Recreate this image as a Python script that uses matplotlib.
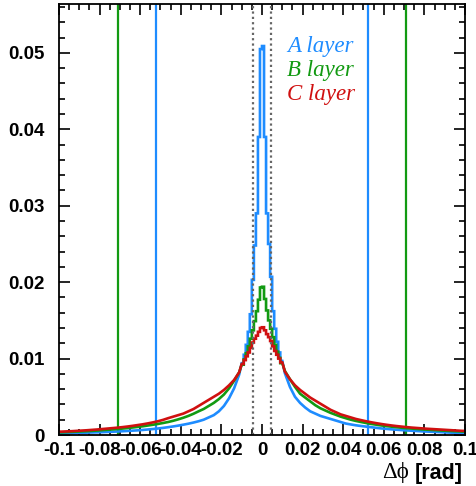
import numpy as np
import matplotlib
matplotlib.use("Agg")
import matplotlib.pyplot as plt
from matplotlib.ticker import MultipleLocator, FixedLocator, FuncFormatter

# core bins are 0.001 wide (|x| < 0.01), tail bins 0.0025 wide (0.01 < |x| < 0.1)
core_edges = np.arange(0, 0.01 + 1e-9, 0.001)
tail_centers = np.arange(0.01125, 0.1, 0.0025)

# bin contents, listed from the centre outwards
blue_core_left = [0.0505, 0.039, 0.029, 0.0248, 0.0203, 0.0158, 0.0135, 0.0118, 0.0105, 0.0094]
blue_core_right = [0.0509, 0.039, 0.029, 0.0250, 0.0207, 0.0162, 0.0139, 0.0122, 0.0108, 0.0097]
blue_tail_left = [0.0079, 0.0061, 0.0048, 0.0038, 0.0031, 0.0026, 0.0023, 0.0020,
                  0.0018, 0.00163, 0.00148, 0.00135, 0.00123, 0.00112, 0.00102, 0.00093,
                  0.00085, 0.00078, 0.00072, 0.00066, 0.00061, 0.00057, 0.00053, 0.00049,
                  0.00046, 0.00043, 0.0004, 0.00037, 0.00035, 0.00033, 0.00031, 0.00029,
                  0.00027, 0.00025, 0.00023, 0.00021]
blue_tail_right = [0.0081, 0.0063, 0.0050, 0.0042, 0.0036, 0.0031, 0.0028, 0.0025,
                   0.0023, 0.0021, 0.0019, 0.0017, 0.0015, 0.00138, 0.00127, 0.00118,
                   0.0011, 0.00102, 0.00094, 0.00086, 0.0008, 0.00074, 0.00069, 0.00064,
                   0.0006, 0.00056, 0.00052, 0.00048, 0.00045, 0.00042, 0.00039, 0.00036,
                   0.00033, 0.0003, 0.00027, 0.00024]

green_core_left = [0.0193, 0.0177, 0.0162, 0.0149, 0.0137, 0.0126, 0.0116, 0.0107, 0.0099, 0.0092]
green_core_right = [0.0194, 0.0178, 0.0163, 0.0150, 0.0139, 0.0128, 0.0118, 0.0109, 0.0101, 0.0094]
green_tail_left = [0.0082, 0.0071, 0.0061, 0.0053, 0.0047, 0.0042, 0.0038, 0.0034,
                   0.0031, 0.00278, 0.0025, 0.00226, 0.00205, 0.00186, 0.0017, 0.00157,
                   0.00145, 0.00134, 0.00124, 0.00114, 0.00106, 0.00098, 0.00091, 0.00084,
                   0.00078, 0.00073, 0.00068, 0.00063, 0.00058, 0.00054, 0.0005, 0.00047,
                   0.00044, 0.00041, 0.00038, 0.00035]
green_tail_right = [0.0084, 0.0073, 0.0063, 0.0054, 0.0049, 0.0044, 0.0039, 0.0035,
                    0.0032, 0.0029, 0.00265, 0.0024, 0.0022, 0.002, 0.00184, 0.0017,
                    0.00157, 0.00145, 0.00135, 0.00125, 0.00117, 0.00109, 0.00102, 0.00095,
                    0.00089, 0.00084, 0.00079, 0.00074, 0.0007, 0.00066, 0.00062, 0.00058,
                    0.00055, 0.00051, 0.00048, 0.00045]

red_core_left = [0.0140, 0.0135, 0.0130, 0.0126, 0.0121, 0.0114, 0.0108, 0.0103, 0.0098, 0.0093]
red_core_right = [0.0141, 0.0137, 0.0132, 0.0128, 0.0123, 0.0116, 0.0110, 0.0105, 0.0100, 0.0095]
red_tail_left = [0.0082, 0.0072, 0.0065, 0.0059, 0.0054, 0.0050, 0.0046, 0.0042,
                 0.0038, 0.0034, 0.0031, 0.0028, 0.0026, 0.0024, 0.0022, 0.00198,
                 0.0018, 0.00165, 0.00152, 0.0014, 0.0013, 0.0012, 0.00111, 0.00103,
                 0.00096, 0.0009, 0.00084, 0.00078, 0.00072, 0.00067, 0.00062, 0.00058,
                 0.00054, 0.0005, 0.00047, 0.00044]
red_tail_right = [0.0083, 0.0073, 0.0065, 0.0059, 0.0054, 0.0049, 0.0045, 0.0041,
                  0.0037, 0.0033, 0.0030, 0.0027, 0.0025, 0.0023, 0.0021, 0.00195,
                  0.0018, 0.00167, 0.00155, 0.00144, 0.00134, 0.00125, 0.00117, 0.0011,
                  0.00103, 0.00097, 0.00092, 0.00087, 0.00082, 0.00078, 0.00074, 0.0007,
                  0.00066, 0.00062, 0.00058, 0.00054]

# cut positions
blue_cut = 0.052
green_cut = 0.071
core_cut = 0.0043

labels = ["A layer", "B layer", "C layer"]
colors = ["#1e8cff", "#129a12", "#d01010"]

series = [
    (blue_core_left, blue_core_right, blue_tail_left, blue_tail_right),
    (green_core_left, green_core_right, green_tail_left, green_tail_right),
    (red_core_left, red_core_right, red_tail_left, red_tail_right),
]


def outline(core_l, core_r, tail_l, tail_r):
    # tails joined through bin centres, core drawn as histogram steps
    xs, ys = [], []
    for c, v in zip(tail_centers[::-1], tail_l[::-1]):
        xs.append(-c)
        ys.append(v)
    for i in range(len(core_l) - 1, -1, -1):
        xs += [-core_edges[i + 1], -core_edges[i]]
        ys += [core_l[i], core_l[i]]
    for i in range(len(core_r)):
        xs += [core_edges[i], core_edges[i + 1]]
        ys += [core_r[i], core_r[i]]
    for c, v in zip(tail_centers, tail_r):
        xs.append(c)
        ys.append(v)
    xs = [-0.1] + xs + [0.1]
    ys = [ys[0]] + ys + [ys[-1]]
    return xs, ys


fig = plt.figure(figsize=(4.77, 4.86), dpi=100)
ax = fig.add_axes([59 / 477, 51 / 486, 406 / 477, 431 / 486])

for xv in (-green_cut, green_cut):
    ax.axvline(xv, color=colors[1], lw=1.6)
for xv in (-blue_cut, blue_cut):
    ax.axvline(xv, color=colors[0], lw=1.6)

for s, c in zip(series, colors):
    xs, ys = outline(*s)
    ax.plot(xs, ys, color=c, lw=1.9, solid_joinstyle="miter")

for xv in (-core_cut, core_cut):
    ax.axvline(xv, color="#666666", lw=1.6, ls=(0, (1, 1.4)))

ax.set_xlim(-0.1, 0.1)
ax.set_ylim(0, 0.0564)

xt = np.round(np.arange(-0.1, 0.1001, 0.02), 2)
ax.xaxis.set_major_locator(FixedLocator(xt))
ax.xaxis.set_minor_locator(MultipleLocator(0.005))
ax.yaxis.set_major_locator(FixedLocator([0, 0.01, 0.02, 0.03, 0.04, 0.05]))
ax.yaxis.set_minor_locator(MultipleLocator(0.002))
ax.xaxis.set_major_formatter(FuncFormatter(lambda v, p: "0" if abs(v) < 1e-9 else "%g" % round(v, 2)))
ax.yaxis.set_major_formatter(FuncFormatter(lambda v, p: "0" if abs(v) < 1e-9 else "%g" % round(v, 2)))

ax.tick_params(which="both", direction="in", top=True, right=True, width=1.2)
ax.tick_params(which="major", length=8)
ax.tick_params(which="minor", length=4)
ax.tick_params(axis="x", pad=5)
ax.tick_params(axis="y", pad=10)
for lab in ax.get_xticklabels() + ax.get_yticklabels():
    lab.set_fontfamily("Liberation Sans")
    lab.set_fontweight("bold")
    lab.set_fontsize(13.5)
for sp in ax.spines.values():
    sp.set_linewidth(1.3)

fig.text(463 / 477, 1 - 463 / 486, "[rad]", ha="right", va="top",
         fontfamily="Liberation Sans", fontweight="bold", fontsize=15.5)
fig.text(409 / 477, 1 - 462 / 486, "\u0394\u03d5", ha="right", va="top",
         fontfamily="Liberation Serif", fontsize=16.5)

for i, (lab, c) in enumerate(zip(labels, colors)):
    fig.text(287 / 477, 1 - (36 + 24 * i) / 486, lab, color=c, ha="left", va="top",
             fontfamily="Liberation Serif", fontstyle="italic", fontsize=16.5)

fig.savefig("out.png", dpi=100)
